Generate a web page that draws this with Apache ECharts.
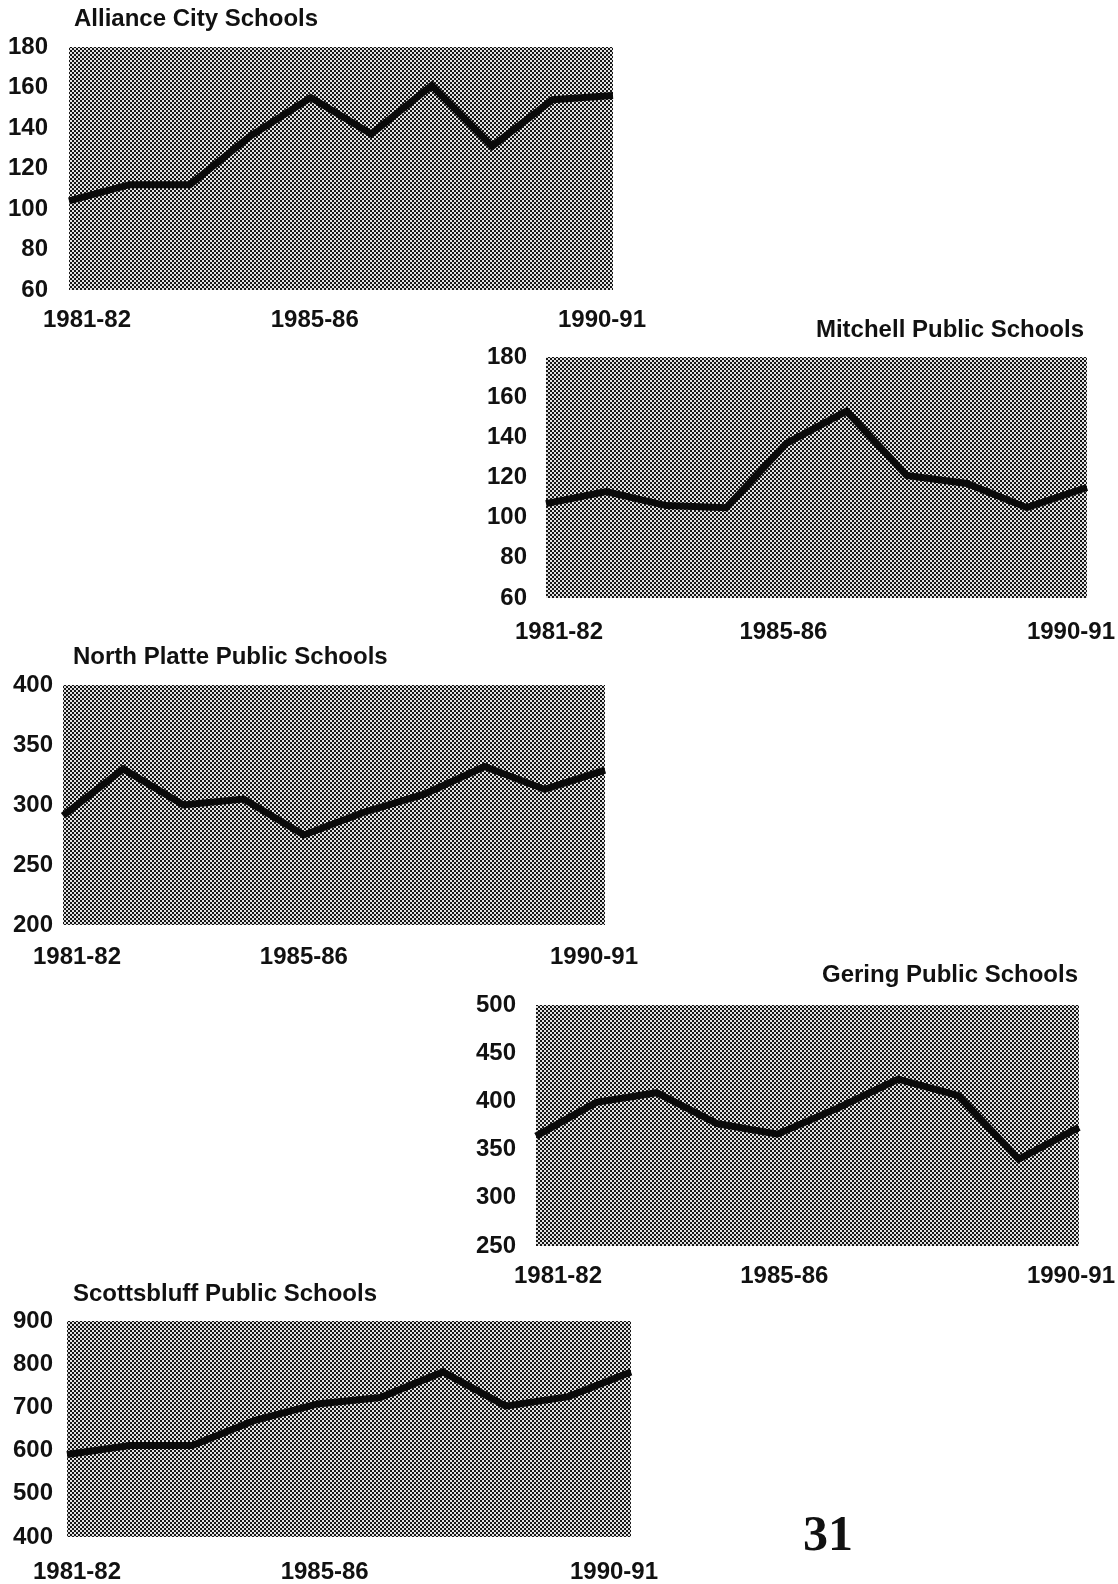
<!DOCTYPE html>
<html>
<head>
<meta charset="utf-8">
<script src="https://cdn.jsdelivr.net/npm/echarts@6/dist/echarts.min.js"></script>
<style>
html,body{margin:0;padding:0;background:#fff;}
#c{width:1118px;height:1584px;}
</style>
</head>
<body>
<div id="c"></div>
<script>
// ---- data ----
const categories = ['1981-82','1982-83','1983-84','1984-85','1985-86','1986-87','1987-88','1988-89','1989-90','1990-91'];
const shownLabels = [0, 4, 9];

const allianceValues    = [104, 112, 112, 136, 155, 137, 161, 131, 154, 156];
const mitchellValues    = [107, 113, 106, 105, 137, 153, 121, 117, 105, 115];
const northPlatteValues = [291, 330, 300, 305, 275, 294, 309, 332, 313, 329];
const geringValues      = [364, 399, 409, 377, 366, 393, 423, 406, 340, 373];
const scottsbluffValues = [591, 612, 612, 670, 708, 723, 782, 703, 725, 782];

const allianceTicks    = [60, 80, 100, 120, 140, 160, 180];
const mitchellTicks    = [60, 80, 100, 120, 140, 160, 180];
const northPlatteTicks = [200, 250, 300, 350, 400];
const geringTicks      = [250, 300, 350, 400, 450, 500];
const scottsbluffTicks = [400, 500, 600, 700, 800, 900];

const titles = ['Alliance City Schools', 'Mitchell Public Schools', 'North Platte Public Schools', 'Gering Public Schools', 'Scottsbluff Public Schools'];

// ---- layout / style ----
const FONT = 'Liberation Sans';
const FS = 24;
const panels = [
  {values: allianceValues, ticks: allianceTicks, grid: {left: 69, top: 47, width: 544, height: 243},
   title: {left: 74, top: 7}, yMargin: 21, xMargin: 18, shifts: [18, 4, -11]},
  {values: mitchellValues, ticks: mitchellTicks, grid: {left: 546, top: 357, width: 542, height: 241},
   title: {right: 34, top: 318}, yMargin: 19, xMargin: 22, shifts: [13, -3, -16]},
  {values: northPlatteValues, ticks: northPlatteTicks, grid: {left: 63, top: 685, width: 542, height: 240},
   title: {left: 73, top: 645}, yMargin: 10, xMargin: 20, shifts: [14, 0, -11]},
  {values: geringValues, ticks: geringTicks, grid: {left: 536, top: 1005, width: 544, height: 241},
   title: {right: 40, top: 963}, yMargin: 20, xMargin: 18, shifts: [22, 7, -8]},
  {values: scottsbluffValues, ticks: scottsbluffTicks, grid: {left: 67, top: 1321, width: 564, height: 218},
   title: {left: 73, top: 1282}, yMargin: 14, xMargin: 23, shifts: [10, 7, -17]}
];

// halftone pattern
const pc = document.createElement('canvas');
pc.width = 4; pc.height = 4;
const pctx = pc.getContext('2d');
pctx.fillStyle = '#e2e2e2'; pctx.fillRect(0, 0, 4, 4);
pctx.fillStyle = '#161616';
pctx.fillRect(0, 0, 2, 2); pctx.fillRect(2, 2, 2, 2);
const pattern = {image: pc, repeat: 'repeat'};

const option = {
  animation: false,
  backgroundColor: '#ffffff',
  title: [], grid: [], xAxis: [], yAxis: [], series: [],
  graphic: [{
    type: 'text', left: 803, top: 1512,
    style: {text: '31', font: 'bold 50px "Liberation Serif"', fill: '#111'}
  }]
};

panels.forEach((p, i) => {
  option.title.push(Object.assign({
    text: titles[i], padding: 0,
    textStyle: {fontFamily: FONT, fontWeight: 'bold', fontSize: FS, color: '#111'}
  }, p.title));
  option.grid.push(Object.assign({show: true, backgroundColor: pattern, borderWidth: 0, containLabel: false}, p.grid));
  const rich = {};
  shownLabels.forEach((idx, k) => {
    const s = p.shifts[k];
    rich['s' + k] = {padding: s >= 0 ? [0, 0, 0, 2 * s] : [0, -2 * s, 0, 0],
      fontFamily: FONT, fontWeight: 'bold', fontSize: FS, color: '#111'};
  });
  option.xAxis.push({
    type: 'category', gridIndex: i, data: categories, boundaryGap: false,
    axisLine: {show: false}, axisTick: {show: false}, splitLine: {show: false},
    axisLabel: {
      margin: p.xMargin,
      interval: (idx) => shownLabels.indexOf(idx) >= 0,
      formatter: (val, idx) => {
        const k = shownLabels.indexOf(idx);
        return k >= 0 ? '{s' + k + '|' + val + '}' : '';
      },
      rich: rich,
      fontFamily: FONT, fontWeight: 'bold', fontSize: FS, color: '#111'
    }
  });
  const t = p.ticks;
  option.yAxis.push({
    type: 'value', gridIndex: i, min: t[0], max: t[t.length - 1], interval: t[1] - t[0],
    axisLine: {show: false}, axisTick: {show: false}, splitLine: {show: false},
    axisLabel: {margin: p.yMargin, fontFamily: FONT, fontWeight: 'bold', fontSize: FS, color: '#111'}
  });
  option.series.push({
    type: 'line', xAxisIndex: i, yAxisIndex: i, data: p.values,
    showSymbol: false, symbol: 'none',
    lineStyle: {color: '#0a0a0a', width: 7, join: 'miter', cap: 'butt'}
  });
});

const chart = echarts.init(document.getElementById('c'), null, {renderer: 'canvas'});
chart.setOption(option);
</script>
</body>
</html>
